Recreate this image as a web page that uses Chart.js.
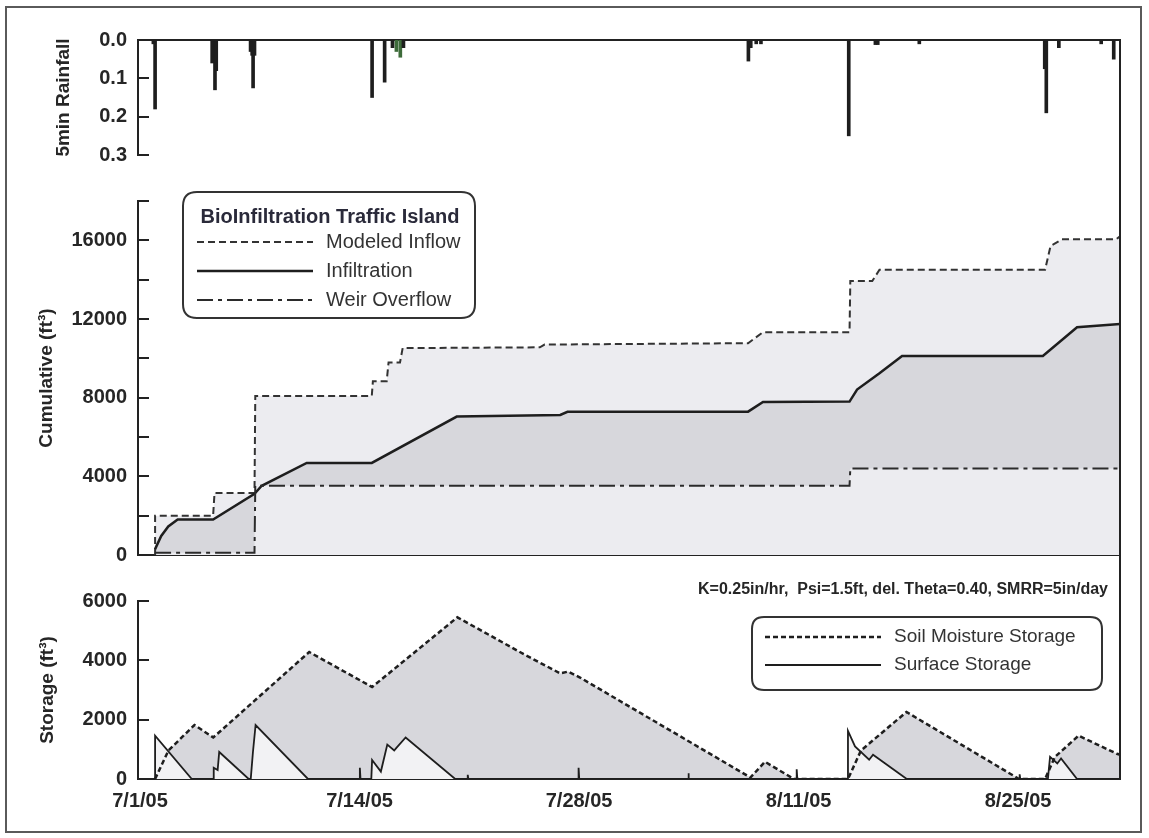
<!DOCTYPE html>
<html>
<head>
<meta charset="utf-8">
<title>BioInfiltration Traffic Island</title>
<script src="https://cdn.jsdelivr.net/npm/chart.js@4.4.1/dist/chart.umd.min.js"></script>
<style>
  body { margin: 0; background: #fff; }
  #page { position: relative; width: 1149px; height: 838px; background: #fff; overflow: hidden; }
  #frame { position: absolute; left: 5px; top: 6px; width: 1137px; height: 827px; border: 2px solid #5a5a5a; box-sizing: border-box; }
  canvas { position: absolute; left: 0; }
</style>
</head>
<body>
<div id="page">
  <div id="frame"></div>
  <canvas id="rainChart" width="1149" height="178" style="top:0px"></canvas>
  <canvas id="cumChart" width="1149" height="400" style="top:178px"></canvas>
  <canvas id="storChart" width="1149" height="260" style="top:578px"></canvas>
</div>
<script>
// x in days, 0 = 7/1/05
const tickDays = [0, 14, 28, 42, 56];
const tickLabels = ['7/1/05', '7/14/05', '7/28/05', '8/11/05', '8/25/05'];

// 5 min rainfall (in)
const rainDay = [0.85, 0.96, 4.6, 4.78, 4.86, 7.05, 7.15, 7.21, 7.3, 14.8, 15.6, 16.1, 16.8, 38.8, 38.95, 39.3, 39.6, 45.2, 46.9, 47.05, 49.7, 57.7, 57.8, 58.6, 61.3, 62.1];
const rainIn = [0.01, 0.18, 0.06, 0.13, 0.08, 0.03, 0.04, 0.125, 0.04, 0.15, 0.11, 0.02, 0.02, 0.055, 0.02, 0.01, 0.01, 0.25, 0.012, 0.012, 0.01, 0.075, 0.19, 0.02, 0.01, 0.05];
const rainGreenDay = [16.35, 16.6];
const rainGreenIn = [0.03, 0.045];

// cumulative volumes (ft3)
const inflowDay = [0.96, 0.96, 4.66, 4.75, 7.3, 7.35, 14.78, 14.85, 15.73, 15.85, 16.58, 16.75, 25.5, 25.8, 38.78, 39.73, 45.25, 45.3, 46.7, 47.16, 57.72, 58.07, 58.8, 62.24, 62.5];
const inflowCum = [0, 2000, 2000, 3150, 3150, 8090, 8090, 8830, 8830, 9790, 9790, 10520, 10560, 10700, 10770, 11330, 11330, 13930, 13930, 14500, 14500, 15710, 16050, 16050, 16200];
const infilDay = [0.96, 1.35, 1.8, 2.4, 4.66, 7.3, 7.76, 10.63, 14.78, 20.2, 26.8, 27.26, 38.78, 39.73, 45.25, 45.73, 47.16, 48.6, 57.58, 59.76, 62.5];
const infilCum = [300, 970, 1450, 1800, 1800, 3110, 3520, 4680, 4680, 7040, 7120, 7280, 7290, 7780, 7800, 8410, 9240, 10120, 10120, 11580, 11740];
const weirDay = [0.96, 7.3, 7.35, 45.25, 45.3, 62.5];
const weirCum = [120, 120, 3520, 3520, 4400, 4400];

// storage (ft3)
const soilDay = [0.96, 1.81, 3.47, 4.67, 10.79, 14.8, 20.24, 24.5, 26.8, 27.3, 28.06, 38.93, 39.86, 41.7, 45.15, 45.98, 48.88, 56.06, 57.72, 58.35, 59.86, 62.3, 62.5];
const soilSto = [0, 960, 1820, 1400, 4280, 3100, 5450, 4200, 3560, 3620, 3420, 50, 580, 0, 0, 960, 2260, 0, 0, 745, 1460, 850, 820];
const surfDay = [0.96, 0.96, 3.3, 4.67, 4.7, 4.95, 5.05, 6.93, 7.06, 7.2, 7.37, 10.71, 14.02, 14.02, 14.06, 14.75, 14.8, 15.36, 15.77, 16.21, 16.35, 16.94, 20.1, 20.9, 20.9, 20.94, 27.97, 27.97, 28.01, 34.97, 34.97, 35.01, 41.88, 41.88, 41.92, 45.15, 45.15, 45.6, 46.5, 46.75, 48.9, 56.1, 56.1, 56.14, 57.9, 58.04, 58.5, 58.74, 59.76, 62.5];
const surfSto = [0, 1460, 0, 0, 380, 300, 910, 0, 0, 900, 1820, 0, 0, 380, 0, 0, 640, 250, 1160, 960, 1050, 1400, 0, 0, 140, 0, 0, 380, 0, 0, 190, 0, 0, 330, 0, 0, 1620, 1100, 650, 820, 0, 0, 160, 0, 0, 745, 525, 690, 0, 0];

const FONT = '"Liberation Sans", Arial, Helvetica, sans-serif';
const TXT = '#262626';
const AXIS = '#222';
const X_MIN = -0.13, X_MAX = 62.5;
const PLOT_LEFT = 138;

Chart.defaults.font.family = FONT;
Chart.defaults.color = TXT;
Chart.defaults.animation = false;

const pts = (xs, ys) => xs.map((x, i) => ({ x: x, y: ys[i] }));

function xScale(showLabels, pos) {
  return {
    type: 'linear', position: pos, min: X_MIN, max: X_MAX, offset: false,
    grid: { display: false, drawTicks: false },
    border: { display: true, width: 2, color: AXIS },
    afterBuildTicks: s => { s.ticks = tickDays.map(v => ({ value: v })); },
    ticks: {
      display: showLabels, autoSkip: false, maxRotation: 0, padding: 10,
      color: TXT, font: { size: 20, weight: 'bold' },
      callback: v => { const i = tickDays.indexOf(v); return i < 0 ? '' : tickLabels[i]; }
    },
    afterFit: s => { s.height = showLabels ? 40 : 0; }
  };
}

function yScale(o) {
  return {
    position: 'left', min: o.min, max: o.max, reverse: !!o.reverse,
    grid: { display: false, drawTicks: false },
    border: { display: true, width: 2, color: AXIS },
    ticks: { stepSize: o.step, padding: 11, color: TXT, font: { size: 20, weight: 'bold' }, callback: o.fmt },
    title: { display: true, text: o.title, color: TXT, font: { size: 19, weight: 'bold' }, padding: { top: o.titleX - 11.4, bottom: 0 } },
    afterFit: s => { s.width = PLOT_LEFT; }
  };
}

// inward tick marks + right border that runs through all panels
const axisDecor = {
  id: 'axisDecor',
  afterDraw(chart, args, o) {
    const ctx = chart.ctx, a = chart.chartArea, y = chart.scales.y;
    ctx.save();
    ctx.strokeStyle = AXIS;
    ctx.lineWidth = 2;
    ctx.beginPath();
    y.ticks.forEach(t => {
      const py = Math.round(y.getPixelForValue(t.value));
      ctx.moveTo(a.left, py);
      ctx.lineTo(a.left + 11, py);
    });
    const top = o.joinTop ? 0 : a.top - 1;
    const bottom = o.joinBottom ? chart.height : a.bottom + 1;
    ctx.moveTo(a.right, top);
    ctx.lineTo(a.right, bottom);
    ctx.stroke();
    ctx.restore();
  }
};

function roundBox(ctx, x, y, w, h, r) {
  ctx.beginPath();
  ctx.moveTo(x + r, y);
  ctx.lineTo(x + w - r, y);
  ctx.quadraticCurveTo(x + w, y, x + w, y + r);
  ctx.lineTo(x + w, y + h - r);
  ctx.quadraticCurveTo(x + w, y + h, x + w - r, y + h);
  ctx.lineTo(x + r, y + h);
  ctx.quadraticCurveTo(x, y + h, x, y + h - r);
  ctx.lineTo(x, y + r);
  ctx.quadraticCurveTo(x, y, x + r, y);
  ctx.closePath();
}

const boxLegend = {
  id: 'boxLegend',
  afterDraw(chart, args, o) {
    if (!o.items) return;
    const ctx = chart.ctx;
    ctx.save();
    roundBox(ctx, o.left, o.top, o.width, o.height, o.radius);
    ctx.fillStyle = '#fff';
    ctx.fill();
    ctx.lineWidth = 2;
    ctx.strokeStyle = '#333';
    ctx.stroke();
    ctx.textBaseline = 'middle';
    if (o.title) {
      ctx.font = 'bold ' + o.fontSize + 'px ' + FONT;
      ctx.fillStyle = '#2a2a3a';
      ctx.textAlign = 'center';
      ctx.fillText(o.title, o.titleX, o.titleY);
    }
    ctx.font = o.fontSize + 'px ' + FONT;
    ctx.textAlign = 'left';
    o.items.forEach((idx, i) => {
      const ds = chart.data.datasets[idx];
      const yy = o.rowY[i];
      ctx.beginPath();
      ctx.setLineDash(ds.borderDash || []);
      ctx.lineWidth = ds.borderWidth;
      ctx.strokeStyle = ds.borderColor;
      ctx.moveTo(o.lineX0, yy);
      ctx.lineTo(o.lineX1, yy);
      ctx.stroke();
      ctx.setLineDash([]);
      ctx.fillStyle = '#333';
      ctx.fillText(ds.label, o.textX, yy);
    });
    ctx.restore();
  }
};

const noteText = {
  id: 'noteText',
  afterDraw(chart, args, o) {
    if (!o.text) return;
    const ctx = chart.ctx;
    ctx.save();
    ctx.font = 'bold ' + o.fontSize + 'px ' + FONT;
    ctx.fillStyle = TXT;
    ctx.textAlign = 'right';
    ctx.textBaseline = 'middle';
    ctx.fillText(o.text, o.x, o.y);
    ctx.restore();
  }
};

// 5 min rainfall panel
new Chart(document.getElementById('rainChart'), {
  type: 'bar',
  data: {
    datasets: [
      { label: 'Rainfall', data: pts(rainDay, rainIn), backgroundColor: '#1e1e1e', barThickness: 3, grouped: false },
      { label: 'Rainfall (2)', data: pts(rainGreenDay, rainGreenIn), backgroundColor: '#3d6b3a', barThickness: 3, grouped: false }
    ]
  },
  options: {
    responsive: false, devicePixelRatio: 1,
    layout: { padding: { left: 0, right: 29, top: 40, bottom: 18 } },
    plugins: { legend: { display: false }, tooltip: { enabled: false }, axisDecor: { joinTop: false, joinBottom: true } },
    scales: {
      x: xScale(false, 'top'),
      y: yScale({ min: 0, max: 0.3, step: 0.1, reverse: true, title: '5min Rainfall', titleX: 64, fmt: v => v.toFixed(1) })
    }
  },
  plugins: [axisDecor]
});

// cumulative panel
new Chart(document.getElementById('cumChart'), {
  type: 'line',
  data: {
    datasets: [
      { label: 'Weir Overflow', data: pts(weirDay, weirCum), borderColor: '#2b2b2b', borderWidth: 2, borderDash: [16, 5, 4, 5], fill: 'origin', backgroundColor: '#ececf0' },
      { label: 'Infiltration', data: pts(infilDay, infilCum), borderColor: '#1e1e1e', borderWidth: 2.5, borderDash: [], fill: 'origin', backgroundColor: '#d7d7dc' },
      { label: 'Modeled Inflow', data: pts(inflowDay, inflowCum), borderColor: '#333', borderWidth: 2, borderDash: [7, 4], fill: 'origin', backgroundColor: '#ececf0' }
    ]
  },
  options: {
    responsive: false, devicePixelRatio: 1,
    layout: { padding: { left: 0, right: 29, top: 15, bottom: 15 } },
    elements: { point: { radius: 0 }, line: { tension: 0 } },
    plugins: {
      legend: { display: false }, tooltip: { enabled: false },
      filler: { drawTime: 'beforeDatasetsDraw' },
      axisDecor: { joinTop: true, joinBottom: true },
      boxLegend: {
        left: 183, top: 14, width: 292, height: 126, radius: 14, fontSize: 20,
        title: 'BioInfiltration Traffic Island', titleX: 330, titleY: 39,
        items: [2, 1, 0], rowY: [64, 93, 122], lineX0: 197, lineX1: 313, textX: 326
      }
    },
    scales: {
      x: xScale(false, 'bottom'),
      y: yScale({ min: 0, max: 18000, step: 2000, title: 'Cumulative (ft³)', titleX: 47, fmt: v => (v % 4000 === 0 ? String(v) : '') })
    }
  },
  plugins: [axisDecor, boxLegend]
});

// storage panel
new Chart(document.getElementById('storChart'), {
  type: 'line',
  data: {
    datasets: [
      { label: 'Surface Storage', data: pts(surfDay, surfSto), borderColor: '#1e1e1e', borderWidth: 1.8, borderDash: [], fill: 'origin', backgroundColor: '#f2f2f4' },
      { label: 'Soil Moisture Storage', data: pts(soilDay, soilSto), borderColor: '#1e1e1e', borderWidth: 2.5, borderDash: [5, 3], fill: 'origin', backgroundColor: '#d7d7dc' }
    ]
  },
  options: {
    responsive: false, devicePixelRatio: 1,
    layout: { padding: { left: 0, right: 29, top: 16, bottom: 19 } },
    elements: { point: { radius: 0 }, line: { tension: 0 } },
    plugins: {
      legend: { display: false }, tooltip: { enabled: false },
      filler: { drawTime: 'beforeDatasetsDraw' },
      axisDecor: { joinTop: true, joinBottom: false },
      boxLegend: {
        left: 752, top: 39, width: 350, height: 73, radius: 12, fontSize: 19,
        items: [1, 0], rowY: [59, 87], lineX0: 765, lineX1: 881, textX: 894
      },
      noteText: { text: 'K=0.25in/hr,  Psi=1.5ft, del. Theta=0.40, SMRR=5in/day', x: 1108, y: 12, fontSize: 16 }
    },
    scales: {
      x: xScale(true, 'bottom'),
      y: yScale({ min: 0, max: 6000, step: 2000, title: 'Storage (ft³)', titleX: 48, fmt: v => String(v) })
    }
  },
  plugins: [axisDecor, boxLegend, noteText]
});
</script>
</body>
</html>
